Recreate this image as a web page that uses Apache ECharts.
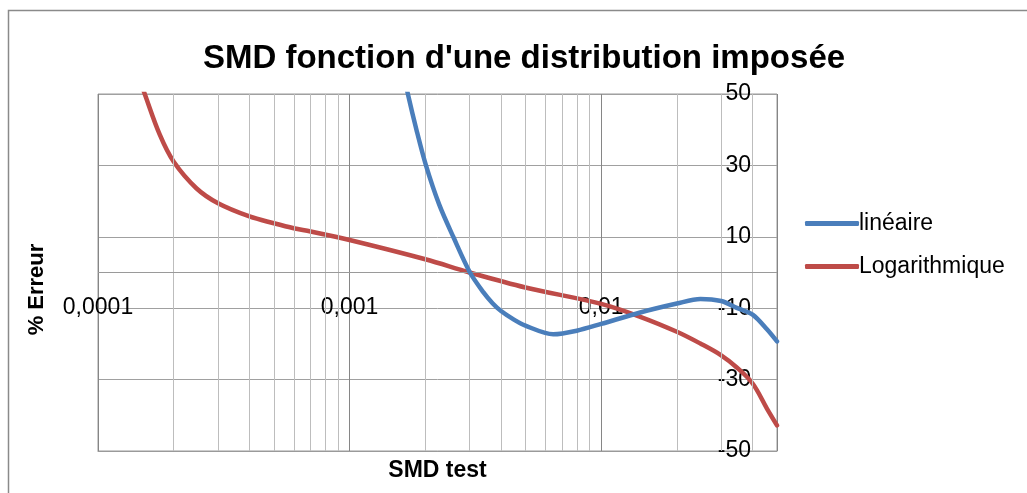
<!DOCTYPE html>
<html>
<head>
<meta charset="utf-8">
<script src="https://cdn.jsdelivr.net/npm/echarts@6/dist/echarts.min.js"></script>
<style>
html,body{margin:0;padding:0;background:#fff;}
#chart{width:1027px;height:493px;}
</style>
</head>
<body>
<div id="chart"></div>
<script>
// ---- data ----
const titleText = "SMD fonction d'une distribution imposée";
const xAxisName = 'SMD test';
const yAxisName = '% Erreur';
const seriesNames = ['linéaire', 'Logarithmique'];

const linX = [0.0016, 0.001705, 0.001844, 0.002012, 0.002272, 0.002583, 0.00301, 0.0034, 0.0037, 0.004, 0.0045, 0.005, 0.00645, 0.008, 0.01, 0.0143, 0.02, 0.0248, 0.03, 0.0346, 0.04, 0.0456, 0.05];
const linY = [59, 50, 40, 30, 19, 10, 0, -5.5, -8.6, -10.8, -13.2, -14.9, -17.3, -16.3, -14.4, -11.2, -8.7, -7.4, -8.0, -9.9, -11.8, -15.9, -19.3];

const logX = [0.000134, 0.0001534, 0.000176, 0.0002, 0.000246, 0.0003, 0.0004, 0.0005, 0.0006, 0.0007, 0.001, 0.002, 0.003, 0.005, 0.01, 0.0143, 0.02, 0.0248, 0.03, 0.0346, 0.04, 0.0456, 0.05];
const logY = [61.6, 50, 38.6, 31, 23.6, 19.4, 15.7, 13.8, 12.4, 11.5, 9.1, 3.7, 0, -4.2, -8.8, -12.4, -16.6, -19.9, -23.2, -26.6, -31.1, -38.1, -42.8];

const xTickValues = [0.0001, 0.001, 0.01];
const xTickLabels = ['0,0001', '0,001', '0,01'];
const xMin = 0.0001, xMax = 0.05;
const yMin = -50, yMax = 50, yStep = 20;
const yCross = 0;
const minorGridX = [0.0002,0.0003,0.0004,0.0005,0.0006,0.0007,0.0008,0.0009,
                    0.002,0.003,0.004,0.005,0.006,0.007,0.008,0.009,
                    0.02,0.03,0.04];

const zip = (xs, ys) => xs.map((x, i) => [x, ys[i]]);
const FONT = 'Liberation Sans';

const chart = echarts.init(document.getElementById('chart'), null, {renderer: 'canvas'});
chart.setOption({
  animation: false,
  backgroundColor: '#ffffff',
  textStyle: {fontFamily: FONT},
  graphic: [{
    type: 'rect', left: 6, top: 8, silent: true, z: -10,
    shape: {x: 0, y: 0, width: 1100, height: 600},
    style: {fill: 'none', stroke: '#8a8a8a', lineWidth: 1.5}
  }],
  title: {
    text: titleText, left: 519, top: 37, textAlign: 'center',
    textStyle: {fontFamily: FONT, fontSize: 33, fontWeight: 'bold', color: '#000'}
  },
  legend: {
    orient: 'vertical', left: 800, top: 207, itemGap: 20,
    icon: 'roundRect', itemWidth: 54, itemHeight: 5,
    data: seriesNames,
    textStyle: {fontFamily: FONT, fontSize: 23, color: '#000', padding: [0, 0, 0, -5]}
  },
  grid: {
    left: 98, right: 250, top: 94, bottom: 42,
    show: true, borderColor: '#9a9a9a', borderWidth: 1,
    containLabel: false, outerBoundsMode: 'none'
  },
  xAxis: {
    type: 'log', logBase: 10, min: xMin, max: xMax,
    name: xAxisName, nameLocation: 'middle', nameGap: 8,
    nameTextStyle: {fontFamily: FONT, fontSize: 23, fontWeight: 'bold', color: '#000'},
    axisLine: {show: true, onZero: false, lineStyle: {color: '#9a9a9a', width: 1}},
    axisTick: {show: false},
    axisLabel: {
      inside: true, margin: 132,
      fontFamily: FONT, fontSize: 23, color: '#000',
      showMinLabel: true, showMaxLabel: false,
      formatter: function (v) {
        for (let i = 0; i < xTickValues.length; i++) {
          if (Math.abs(v / xTickValues[i] - 1) < 1e-6) return xTickLabels[i];
        }
        return '';
      }
    },
    splitLine: {show: true, lineStyle: {color: '#868686', width: 1}}
  },
  yAxis: [{
    type: 'value', min: yMin, max: yMax, interval: yStep,
    position: 'right', offset: -24,
    axisLine: {show: false},
    axisTick: {show: false},
    axisLabel: {inside: true, margin: 2, fontFamily: FONT, fontSize: 23, color: '#000'},
    splitLine: {show: true, lineStyle: {color: '#a0a0a0', width: 1}}
  }, {
    type: 'value', min: yMin, max: yMax, interval: yStep,
    position: 'left',
    name: yAxisName, nameLocation: 'middle', nameRotate: 90, nameGap: 50,
    nameTextStyle: {fontFamily: FONT, fontSize: 22, fontWeight: 'bold', color: '#000', padding: [0, 34, 0, 0]},
    axisLine: {show: false}, axisTick: {show: false}, axisLabel: {show: false},
    splitLine: {show: false}
  }],
  series: [{
    name: 'minorGrid', type: 'line', z: 1, silent: true,
    data: minorGridX.map(v => [v, null]),
    symbol: 'none', lineStyle: {opacity: 0},
    markLine: {
      silent: true, symbol: ['none', 'none'], animation: false, precision: 10,
      label: {show: false},
      lineStyle: {color: '#bdbdbd', width: 1, type: 'solid'},
      emphasis: {disabled: true},
      data: minorGridX.map(v => ({xAxis: v})).concat([
        {yAxis: yCross, lineStyle: {color: '#9a9a9a', width: 1, type: 'solid'}}
      ])
    }
  }, {
    name: seriesNames[0], type: 'line', data: zip(linX, linY),
    smooth: 0.3, showSymbol: false, symbol: 'none', z: 5, clip: true,
    color: '#4A7EBB',
    lineStyle: {color: '#4A7EBB', width: 4.5, cap: 'round', join: 'round'}
  }, {
    name: seriesNames[1], type: 'line', data: zip(logX, logY),
    smooth: 0.35, showSymbol: false, symbol: 'none', z: 4, clip: true,
    color: '#BE4B48',
    lineStyle: {color: '#BE4B48', width: 4.5, cap: 'round', join: 'round'}
  }]
});
</script>
</body>
</html>
